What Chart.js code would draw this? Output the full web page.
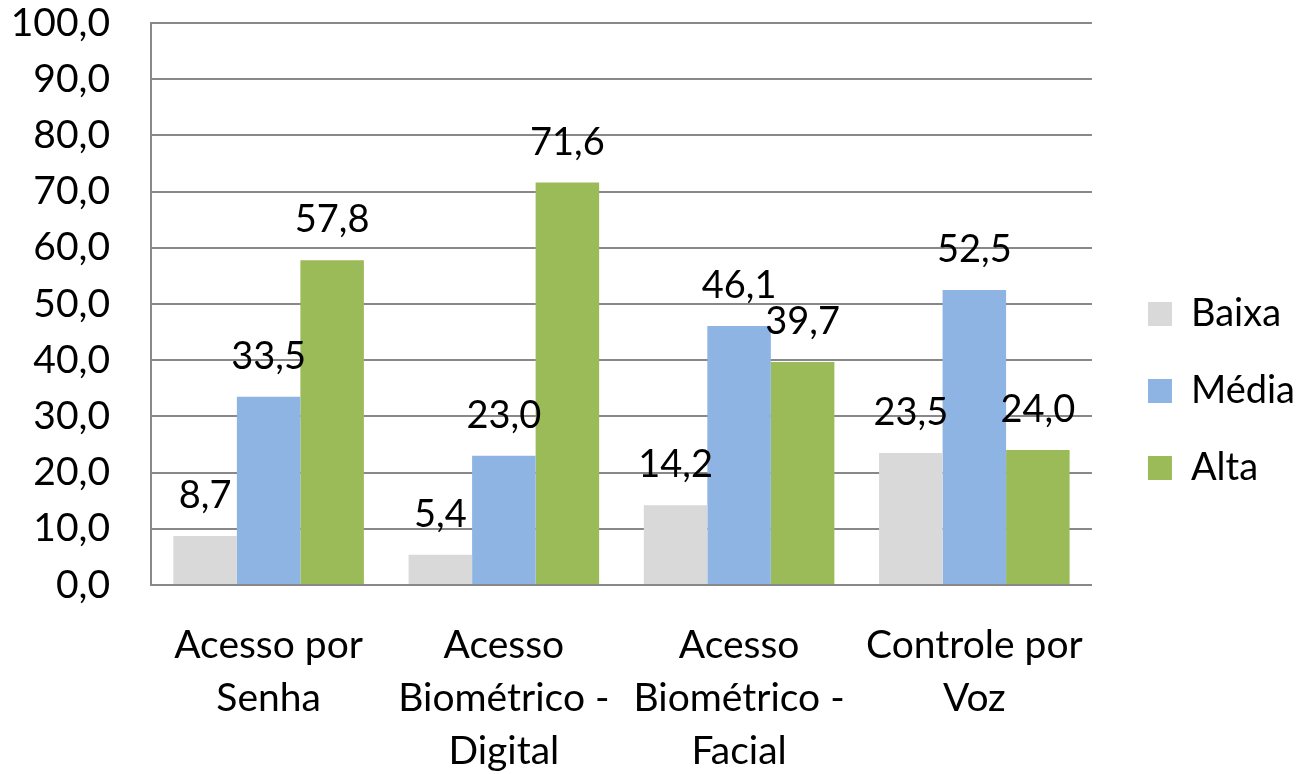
<!DOCTYPE html>
<html>
<head>
<meta charset="utf-8">
<script src="https://cdn.jsdelivr.net/npm/chart.js@4.4.1/dist/chart.umd.min.js"></script>
<style>
  html, body { margin: 0; padding: 0; background: #fff; }
  #wrap { width: 1308px; height: 774px; }
</style>
</head>
<body>
<div id="wrap"><canvas id="chart"></canvas></div>
<script>
const categories = [
  ['Acesso por', 'Senha'],
  ['Acesso', 'Biométrico -', 'Digital'],
  ['Acesso', 'Biométrico -', 'Facial'],
  ['Controle por', 'Voz']
];
const baixa = [8.7, 5.4, 14.2, 23.5];
const media = [33.5, 23.0, 46.1, 52.5];
const alta = [57.8, 71.6, 39.7, 24.0];

const FONT = 'Lato, "Liberation Sans", sans-serif';
const fmt = v => Number(v).toFixed(1).replace('.', ',');

// draws the value above each bar
const valueLabels = {
  id: 'valueLabels',
  afterDatasetsDraw(chart) {
    const ctx = chart.ctx;
    ctx.save();
    ctx.font = '38px ' + FONT;
    ctx.fillStyle = '#000';
    ctx.textAlign = 'center';
    ctx.textBaseline = 'middle';
    chart.data.datasets.forEach((ds, i) => {
      const meta = chart.getDatasetMeta(i);
      meta.data.forEach((bar, j) => {
        ctx.fillText(fmt(ds.data[j]), bar.x, bar.y - 40);
      });
    });
    ctx.restore();
  }
};

// nudge the legend a bit away from the plot
const legendShift = {
  id: 'legendShift',
  afterLayout(chart) {
    const lg = chart.legend;
    if (lg) {
      lg.left += 17; lg.right += 17;
      lg.top += 4; lg.bottom += 4;
    }
  }
};

const ctx = document.getElementById('chart').getContext('2d');
new Chart(ctx, {
  type: 'bar',
  data: {
    labels: categories,
    datasets: [
      { label: 'Baixa', data: baixa, backgroundColor: '#D9D9D9' },
      { label: 'Média', data: media, backgroundColor: '#8EB4E3' },
      { label: 'Alta', data: alta, backgroundColor: '#9BBB59' }
    ]
  },
  options: {
    responsive: true,
    maintainAspectRatio: false,
    animation: false,
    layout: { padding: { left: 0, right: 20, top: 0, bottom: 0 } },
    datasets: {
      bar: { categoryPercentage: 0.81, barPercentage: 1.0 }
    },
    scales: {
      x: {
        grid: { display: false },
        border: { display: true, color: '#888', width: 2 },
        ticks: {
          color: '#000',
          padding: 26,
          maxRotation: 0,
          font: { family: FONT, size: 39, lineHeight: 1.36 }
        },
        afterFit(scale) { scale.height = 189; }
      },
      y: {
        min: 0,
        max: 100,
        grid: { color: '#888', lineWidth: 2, drawTicks: false },
        border: { display: true, color: '#888', width: 2 },
        ticks: {
          stepSize: 10,
          color: '#000',
          padding: 41,
          font: { family: FONT, size: 39 },
          callback: v => fmt(v)
        },
        afterFit(scale) { scale.width = 151; scale.paddingTop = 23; }
      }
    },
    plugins: {
      tooltip: { enabled: false },
      legend: {
        position: 'right',
        align: 'center',
        labels: {
          color: '#000',
          boxWidth: 24,
          boxHeight: 24,
          padding: 39,
          font: { family: FONT, size: 38 }
        }
      }
    }
  },
  plugins: [valueLabels, legendShift]
});
</script>
</body>
</html>
